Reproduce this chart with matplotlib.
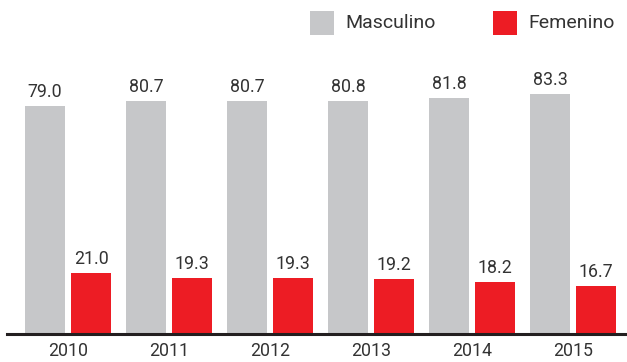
import numpy as np
import matplotlib.pyplot as plt
from matplotlib.patches import Rectangle

years = ['2010', '2011', '2012', '2013', '2014', '2015']
masculino = [79.0, 80.7, 80.7, 80.8, 81.8, 83.3]
femenino = [21.0, 19.3, 19.3, 19.2, 18.2, 16.7]

gray = '#c6c7c9'
red = '#ed1c24'
txt = '#333333'

plt.rcParams['font.family'] = ['Roboto', 'DejaVu Sans']

fig = plt.figure(figsize=(6.27, 3.62), dpi=100)
ax = fig.add_axes([7 / 627, 1 - 334 / 362, 620 / 627, 294 / 362])

x = np.arange(len(years))
w = 0.396
off = 0.228

b1 = ax.bar(x - off, masculino, w, color=gray)
b2 = ax.bar(x + off, femenino, w, color=red)

# value labels above each bar
for bars, vals in ((b1, masculino), (b2, femenino)):
    for b, v in zip(bars, vals):
        ax.annotate(f'{v:.1f}', (b.get_x() + b.get_width() / 2, v),
                    xytext=(0, 6.5), textcoords='offset points',
                    ha='center', va='baseline', fontsize=12.8, color=txt)

ax.set_xlim(-0.604, 5.535)
ax.set_ylim(0, 102)
ax.set_xticks(x)
ax.set_xticklabels(years, fontsize=12.8, color=txt)
ax.tick_params(axis='x', length=0, pad=6)
ax.set_yticks([])
for s in ['top', 'right', 'left']:
    ax.spines[s].set_visible(False)
ax.spines['bottom'].set_linewidth(2.2)
ax.spines['bottom'].set_color('#231f20')

# legend drawn as squares + text in figure coords
W, H = 627, 362
for x0, col, label in ((310, gray, 'Masculino'), (493, red, 'Femenino')):
    fig.add_artist(Rectangle((x0 / W, 1 - 35 / H), 24 / W, 24 / H,
                             transform=fig.transFigure, color=col, lw=0))
    fig.text((x0 + 35) / W, 1 - 23 / H, label, fontsize=14, color=txt,
             va='center', ha='left')

plt.savefig('out.png', dpi=100)
